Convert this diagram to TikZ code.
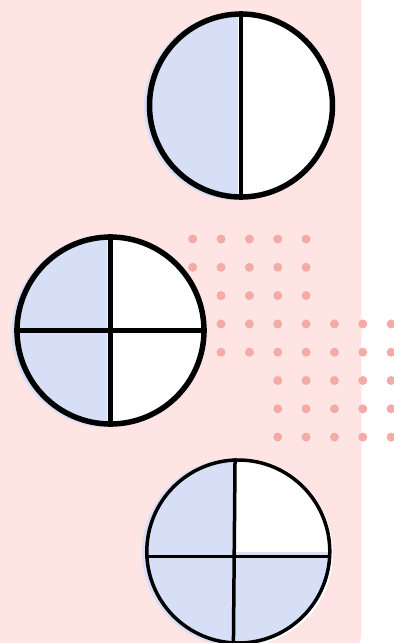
\documentclass[tikz,border=0pt]{standalone}
\usepackage{xcolor}
\usepackage{tikz}
\usetikzlibrary{calc}
\definecolor{pinkbg}{RGB}{255,228,228}
\definecolor{dotpink}{RGB}{244,170,165}
\definecolor{partblue}{RGB}{214,223,246}

\begin{document}
\begin{tikzpicture}[
  disc/.style={circle,draw=black,inner sep=0pt,line width=#1},
  disc/.default=0.11cm,
  split/.style={draw=black,line width=#1},
  split/.default=0.09cm,
  dot/.style={fill=dotpink}]
  \useasboundingbox (0,0) rectangle (7.88,-12.86);
  \clip (0,0) rectangle (7.88,-12.86);
  \fill[pinkbg,rounded corners=0.4cm] (-0.5,0.5) rectangle (7.23,-13.07);
  % dot grid
  \foreach \k in {0,...,4}{\foreach \j in {0,1}{\fill[dot] (3.854+0.567*\k,-4.78-0.566*\j) circle (0.09);}}
  \foreach \k in {1,...,4}{\fill[dot] (3.854+0.567*\k,-5.912) circle (0.09);}
  \foreach \k in {1,...,7}{\foreach \j in {3,4}{\fill[dot] (3.854+0.567*\k,-4.78-0.566*\j) circle (0.09);}}
  \foreach \k in {3,...,7}{\foreach \j in {5,6,7}{\fill[dot] (3.854+0.567*\k,-4.78-0.566*\j) circle (0.09);}}
  % one half
  \fill[white] (4.82,-2.11) circle (1.88);
  \fill[partblue] (4.76,-2.13) -- ++(0,1.88) arc[start angle=90,end angle=270,radius=1.88] -- cycle;
  \node[disc,minimum size=3.66cm] (halfdisc) at (4.82,-2.11) {};
  \draw[split] (halfdisc.north) -- (halfdisc.south);
  % two quarters
  \fill[white] (2.21,-6.61) circle (1.92);
  \fill[partblue] (2.15,-6.63) -- ++(0,1.92) arc[start angle=90,end angle=270,radius=1.92] -- cycle;
  \node[disc,minimum size=3.74cm] (quartdisc) at (2.21,-6.61) {};
  \draw[split] (quartdisc.north) -- (quartdisc.south);
  \draw[split] (quartdisc.west) -- (quartdisc.east);
  % three quarters
  \fill[white] (4.80,-11.07) circle (1.86);
  \fill[partblue] (4.72,-11.04) -- ++(0,1.88) arc[start angle=90,end angle=360,radius=1.88] -- cycle;
  \node[disc=0.07cm,minimum size=3.66cm] (threedisc) at (4.766,-11.03) {};
  \draw[split=0.07cm] (threedisc.92.7) -- (threedisc.267.3);
  \draw[split=0.07cm] (threedisc.183.4) -- (threedisc.-3.4);
\end{tikzpicture}
\end{document}
